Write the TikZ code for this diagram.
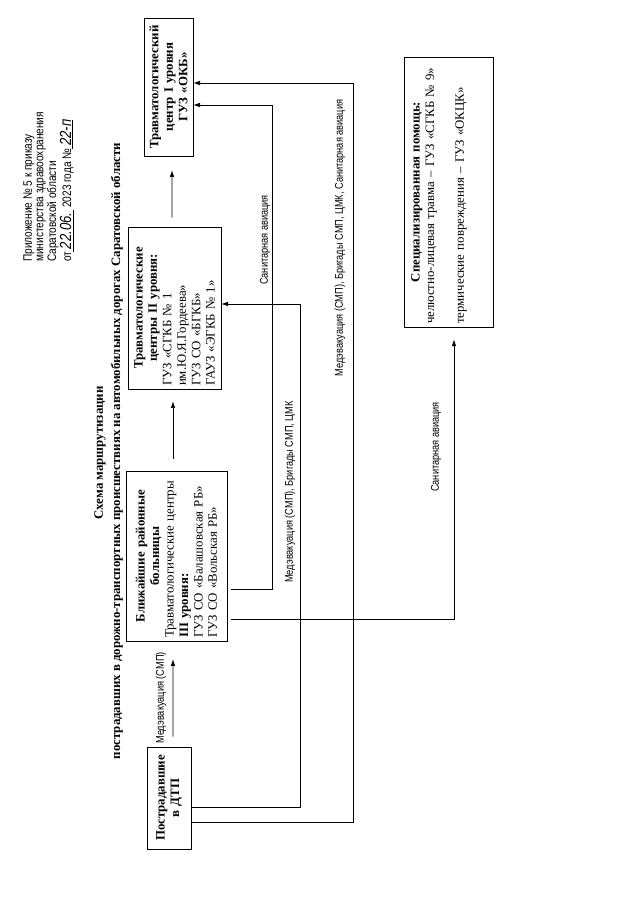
\documentclass[tikz,border=0pt]{standalone}
\usepackage{fontspec}
\setmainfont{Liberation Serif}
\newfontfamily\uzk[FakeStretch=0.82]{Liberation Sans}
\usetikzlibrary{arrows.meta,calc}
\tikzset{
  blok/.style={draw,line width=0.6pt,inner sep=1mm,font=\fontsize{12}{13.5}\selectfont},
  strelka/.style={line width=0.6pt,-{Latex[length=2.2mm,width=1.5mm]}},
  podpis/.style={inner sep=0pt,font=\uzk\fontsize{10.5}{12}\selectfont},
  zag/.style={inner sep=0pt,font=\bfseries\fontsize{12}{14}\selectfont},
}

\begin{document}
\begin{tikzpicture}[rotate=90,transform shape,x=0.3285mm,y=0.3285mm]
  \useasboundingbox[fill=white] (0,0) rectangle (904,640);
  \node[podpis,anchor=west,align=left,font=\uzk\fontsize{11.5}{10.8}\selectfont] (prikaz) at (642,591.5)
    {Приложение № 5 к приказу\\ министерства здравоохранения\\ Саратовской области\\
     от\underline{\fontsize{15}{10.8}\selectfont\itshape\,22.06.\,}\,2023 года №\underline{\fontsize{15}{10.8}\selectfont\itshape\,22-п}};
  \node[zag] (zag1) at (451,540) {Схема маршрутизации};
  \node[zag] (zag2) at (453,523)
    {пострадавших в дорожно-транспортных происшествиях на автомобильных дорогах Саратовской области};

  \node[blok,align=center,text width=31.5mm,minimum height=14.5mm] (postr) at (106,471)
    {\bfseries Пострадавшие\\ в ДТП};
  \node[blok,align=left,text width=53.8mm,minimum height=33.2mm] (bliz) at (348,463.5)
    {{\centering\bfseries Ближайшие районные\\ больницы\par}
     Травматологические центры\\ {\bfseries III уровня:}\\
     ГУЗ СО «Балашовская РБ»\\ ГУЗ СО «Вольская РБ»};
  \node[blok,align=left,text width=51.2mm,minimum height=30.6mm] (tc2) at (596,465.5)
    {{\centering\bfseries Травматологические\\ центры II уровня:\par}
     ГУЗ «СГКБ № 1\\ им.Ю.Я.Гордеева»\\ ГУЗ СО «БГКБ»\\ ГАУЗ «ЭГКБ № 1»};
  \node[blok,align=center,text width=43.3mm,minimum height=16.1mm] (tc1) at (817,471.5)
    {\bfseries Травматологический\\ центр I уровня\\ ГУЗ «ОКБ»};
  \node[blok,align=left,text width=86.7mm,minimum height=29.2mm] (spec) at (712,191.5)
    {{\centering\bfseries Специализированная помощь:\par}
     челюстно-лицевая травма – ГУЗ «СГКБ № 9»\\[5mm]
     термические повреждения – ГУЗ «ОКЦК»\\[2.5mm]\mbox{}};

  \draw[strelka] ($(postr.east)+(10,-4)$) -- ($(bliz.west)+(-18,3.5)$);
  \draw[strelka] ($(bliz.east)+(12,3.5)$) -- ($(tc2.west)+(-12,1.5)$);
  \draw[strelka] ($(tc2.east)+(9,2.5)$) -- ($(tc1.west)+(-14,-3.5)$);
  \coordinate (v1) at (97,340);
  \coordinate (v2) at (600,340);
  \draw[strelka] ($(postr.south)+(-9,0)$) -- (v1) -- (v2) -- ($(tc2.south)+(4,0)$);
  \coordinate (w1) at (82,287);
  \coordinate (w2) at (821,287);
  \draw[strelka] ($(postr.south)+(-24,0)$) -- (w1) -- (w2) -- ($(tc1.south)+(4,0)$);
  \coordinate (s1) at (315,368);
  \coordinate (s2) at (799,368);
  \draw[strelka,shorten <=1.3mm] ($(bliz.south)+(-33,0)$) -- (s1) -- (s2) -- ($(tc1.south)+(-18,0)$);
  \coordinate (s3) at (285,186);
  \draw[strelka,shorten <=1.3mm,shorten >=4mm] ($(bliz.south)+(-63,0)$) -- (s3) -- ($(spec.west)+(0,-5.5)$);

  \node[podpis] (n1) at (206,479) {Медэвакуация (СМП)};
  \node[podpis] (n2) at (664,375) {Санитарная авиация};
  \node[podpis] (n3) at (412,350) {Медэвакуация (СМП), Бригады СМП, ЦМК};
  \node[podpis] (n4) at (666,300) {Медэвакуация (СМП), Бригады СМП, ЦМК, Санитарная авиация};
  \node[podpis] (n5) at (457,204) {Санитарная авиация};
\end{tikzpicture}
\end{document}
